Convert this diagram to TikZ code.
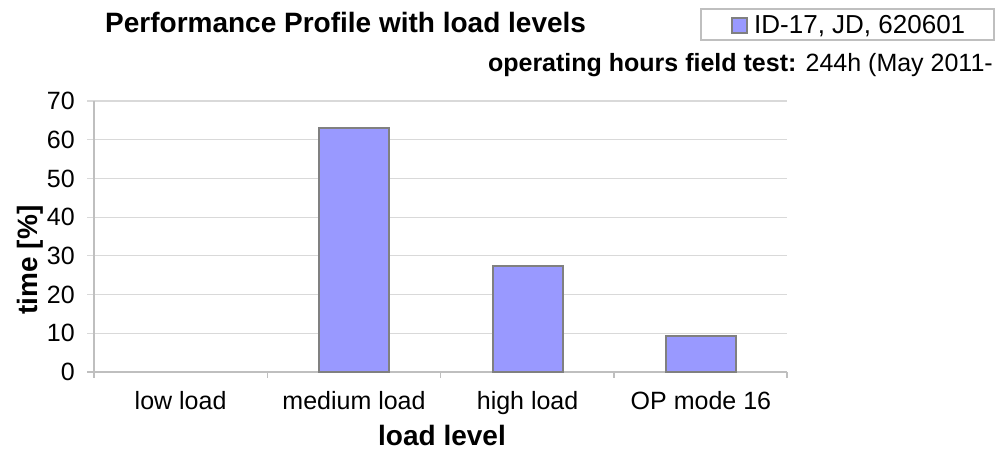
\documentclass[tikz,border=0pt]{standalone}
\usepackage{fontspec}
\setmainfont{Liberation Sans}
\definecolor{barfill}{HTML}{9999FF}
\definecolor{barline}{HTML}{808080}
\definecolor{gridc}{HTML}{D9D9D9}
\definecolor{axisc}{HTML}{BFBFBF}
\begin{document}
\begin{tikzpicture}[x=1pt,y=-1pt,
  gridline/.style={draw=gridc,line width=1.2pt},
  axisline/.style={draw=axisc,line width=1.5pt},
  barbox/.style={draw=barline,fill=barfill,line width=2pt},
  ticklbl/.style={font=\fontsize{25}{30}\selectfont,inner sep=0pt},
  boldlbl/.style={font=\fontsize{28}{33}\selectfont\bfseries,inner sep=0pt}]
\useasboundingbox (0,0) rectangle (995,449);
% gridlines and y labels
\foreach \v in {10,20,...,70}{
  \draw[gridline] (87,{372-\v*3.871}) -- (787,{372-\v*3.871});
}
\foreach \v in {0,10,...,70}{
  \node[ticklbl,anchor=east] (y\v) at (75,{372-\v*3.871}) {\v};
}
% axes
\draw[axisline] (94,101) -- (94,378);
\draw[axisline] (87,372) -- (787,372);
\foreach \i in {0,1,2,3,4}{
  \draw[axisline] ({94+\i*173.25},372) -- ({94+\i*173.25},378);
}
% bars
\draw[barbox] (319,372) rectangle (389,{372-63.1*3.871});
\draw[barbox] (493,372) rectangle (563,{372-27.5*3.871});
\draw[barbox] (666,372) rectangle (736,{372-9.3*3.871});
% x labels
\node[ticklbl,anchor=base] (c1) at (180.6,409) {low load};
\node[ticklbl,anchor=base] (c2) at (354,409) {medium load};
\node[ticklbl,anchor=base] (c3) at (527.6,409) {high load};
\node[ticklbl,anchor=base] (c4) at (700.9,409) {OP mode 16};
% axis titles
\node[boldlbl,anchor=base] (xt) at (442,445) {load level};
\node[boldlbl,rotate=90] (yt) at (30,260) {time [\%]};
% title
\node[boldlbl,anchor=base west] (title) at (105,33) {Performance Profile with load levels};
% legend
\draw[draw=axisc,line width=1.2pt,fill=white] (701,9) rectangle (994,40);
\draw[draw=barline,fill=barfill,line width=1.2pt] (732,18) rectangle (747,33);
\node[anchor=base west,inner sep=0pt,font=\fontsize{26}{31}\selectfont] (leg) at (754,34) {ID-17, JD, 620601};
% operating hours
\node[ticklbl,anchor=base east] (ops) at (993,72) {\textbf{operating hours field test:} 244h (May 2011-};
\end{tikzpicture}
\end{document}
